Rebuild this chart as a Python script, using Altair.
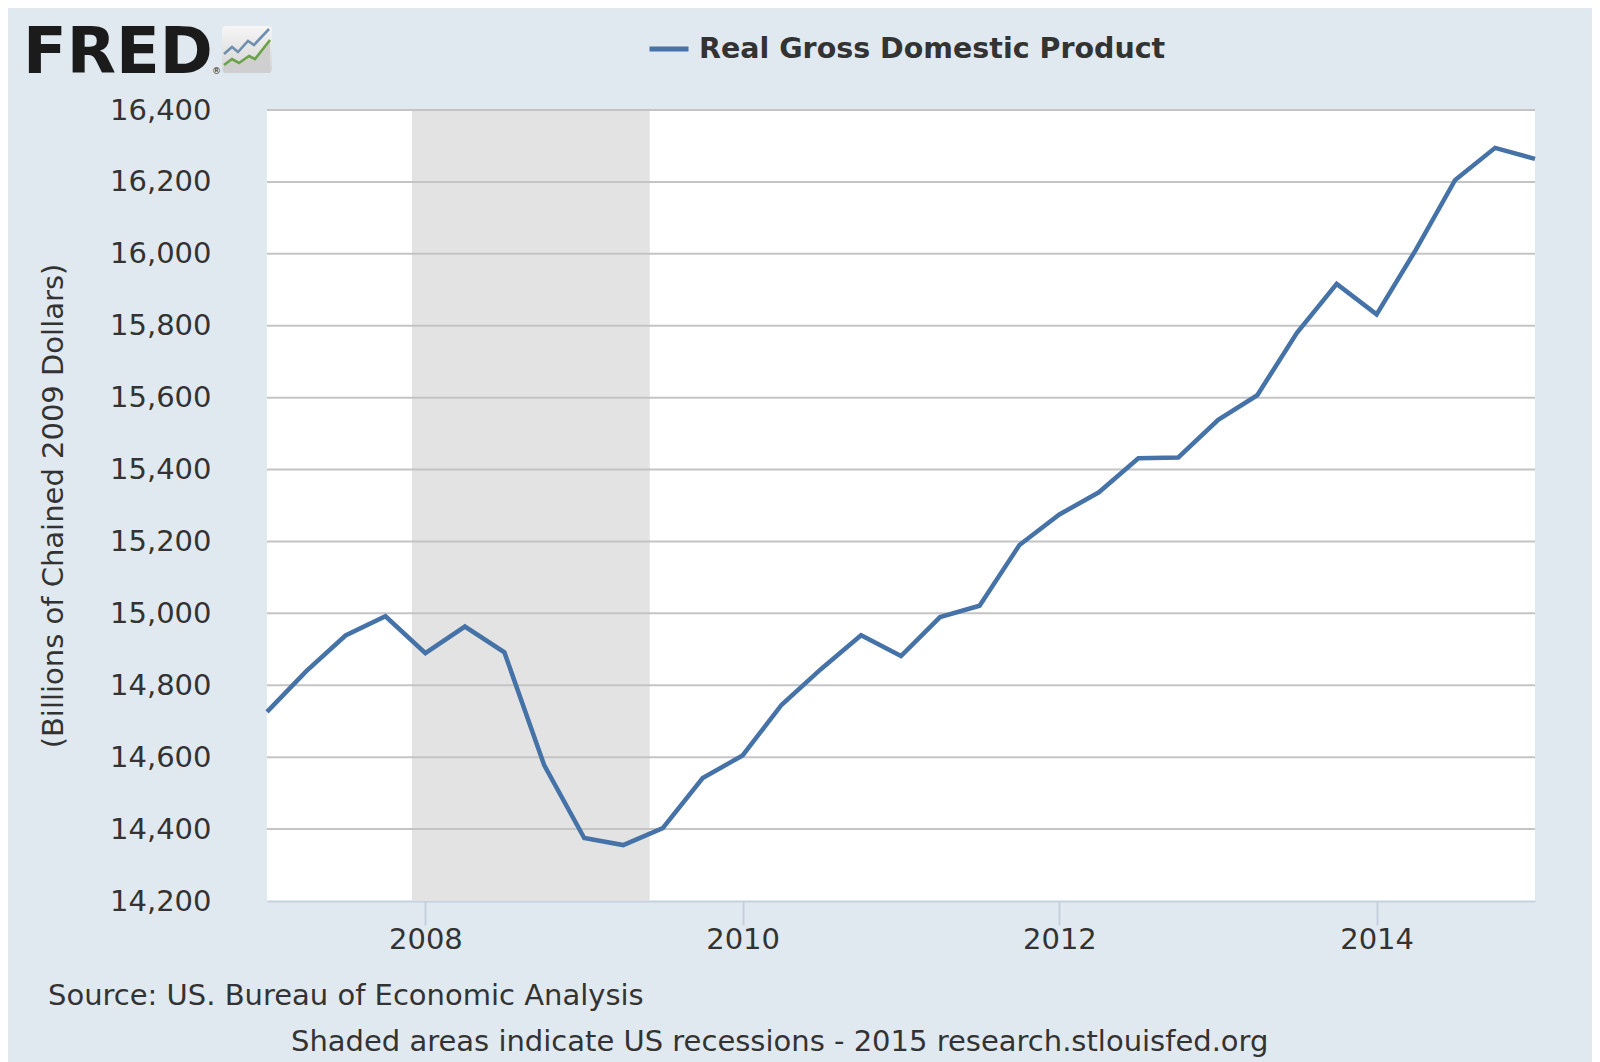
import urllib.parse
import altair as alt
import pandas as pd

# ---------------- data ----------------
quarters = [
    "2007-01-01", "2007-04-01", "2007-07-01", "2007-10-01",
    "2008-01-01", "2008-04-01", "2008-07-01", "2008-10-01",
    "2009-01-01", "2009-04-01", "2009-07-01", "2009-10-01",
    "2010-01-01", "2010-04-01", "2010-07-01", "2010-10-01",
    "2011-01-01", "2011-04-01", "2011-07-01", "2011-10-01",
    "2012-01-01", "2012-04-01", "2012-07-01", "2012-10-01",
    "2013-01-01", "2013-04-01", "2013-07-01", "2013-10-01",
    "2014-01-01", "2014-04-01", "2014-07-01", "2014-10-01",
    "2015-01-01",
]
gdp = [
    14726.0, 14838.7, 14938.5, 14991.8,
    14889.5, 14963.4, 14891.6, 14577.0,
    14375.0, 14355.6, 14402.5, 14541.9,
    14604.8, 14745.9, 14845.5, 14939.0,
    14881.3, 14989.6, 15021.1, 15190.3,
    15275.0, 15336.7, 15431.3, 15433.7,
    15538.4, 15606.6, 15779.9, 15916.2,
    15831.7, 16010.4, 16205.6, 16294.7,
    16264.1,
]
series_name = "Real Gross Domestic Product"
recession_start = ["2007-12-01"]
recession_end = ["2009-06-01"]
y_ticks = [14200, 14400, 14600, 14800, 15000, 15200, 15400, 15600, 15800, 16000, 16200, 16400]
x_tick_years = [2008, 2010, 2012, 2014]
x_domain = ["2007-01-01", "2015-01-01"]
y_title = "(Billions of Chained 2009 Dollars)"
source_text = "Source: US. Bureau of Economic Analysis"
note_text = "Shaded areas indicate US recessions - 2015 research.stlouisfed.org"
logo_text = "FRED"

# ---------------- styling ----------------
BG = "#e1e9f0"
LINE = "#4572a7"
TEXT = "#333333"
FONT = "DejaVu Sans"
FS = 29
W, H = 1268, 791

df = pd.DataFrame({"date": quarters, "gdp": gdp, "series": [series_name] * len(gdp)})
rec = pd.DataFrame({"start": recession_start, "end": recession_end})
grid = pd.DataFrame({"tick": [t for t in y_ticks if t != y_ticks[0]]})

x_scale = alt.Scale(type="utc", domain=x_domain, nice=False)
x_axis = alt.Axis(
    values=[alt.DateTime(year=y, month=1, date=1, utc=True) for y in x_tick_years],
    format="%Y", title=None, grid=False,
    labelFontSize=FS, labelFont=FONT, labelColor=TEXT, labelPadding=0,
    tickSize=24, tickColor="#c3d1df", tickWidth=2,
    domainColor="#c3d1df", domainWidth=2, labelFlush=False,
)
y_scale = alt.Scale(domain=[y_ticks[0], y_ticks[-1]], nice=False, zero=False)
y_axis = alt.Axis(
    values=y_ticks, format=",.0f", grid=False, domain=False, ticks=False, tickSize=0,
    labelFontSize=FS, labelFont=FONT, labelColor=TEXT, labelPadding=56,
    title=y_title, titleFont=FONT, titleFontSize=FS, titleFontWeight="normal",
    titleColor=TEXT, titleAngle=270, titleX=-214, titleY=H / 2,
    titleAlign="center", titleBaseline="middle",
)

recession = alt.Chart(rec).mark_rect(color="#e3e3e3").encode(
    x=alt.X("start:T", scale=x_scale, axis=x_axis),
    x2="end:T",
)

gridlines = alt.Chart(grid).mark_rule(color="#c4c4c4", strokeWidth=2).encode(
    y=alt.Y("tick:Q", scale=y_scale, axis=y_axis),
)

line = alt.Chart(df).mark_line(strokeWidth=4.5, strokeJoin="miter").encode(
    x=alt.X("date:T", scale=x_scale, axis=x_axis),
    y=alt.Y("gdp:Q", scale=y_scale, axis=y_axis),
    color=alt.Color(
        "series:N",
        scale=alt.Scale(range=[LINE]),
        legend=alt.Legend(
            orient="none", legendX=380, legendY=-83, title=None,
            symbolType="stroke", symbolSize=1521, symbolStrokeWidth=5,
            labelFont=FONT, labelFontSize=28.5, labelFontWeight="bold",
            labelColor=TEXT, labelOffset=8, labelLimit=1000, padding=0,
        ),
    ),
)

# ---------------- logo & captions ----------------
icon_svg = (
    "<svg xmlns='http://www.w3.org/2000/svg' width='50' height='47' viewBox='0 0 50 47'>"
    "<defs><linearGradient id='g' x1='0' y1='0' x2='0' y2='1'>"
    "<stop offset='0' stop-color='#f6f6f6'/><stop offset='1' stop-color='#d3d3d3'/>"
    "</linearGradient></defs>"
    "<rect width='50' height='47' rx='4' fill='url(#g)'/>"
    "<polygon points='2,40 10,34 17,38 27,31 33,34 48,15 48,47 2,47' fill='#cfcfcf'/>"
    "<polyline points='2,28 10,21 16,26 26,15 32,19 47,3' fill='none' stroke='#6f8fae' stroke-width='2.6'/>"
    "<polyline points='2,39 10,33 17,37 27,30 33,33 48,14' fill='none' stroke='#6aa34a' stroke-width='2.6'/>"
    "</svg>"
)
icon_url = "data:image/svg+xml;charset=utf-8," + urllib.parse.quote(icon_svg)

logo = alt.Chart(pd.DataFrame({"t": [logo_text]})).mark_text(
    font=FONT, fontSize=64, fontWeight="bold", color="#1b1b1b",
    align="left", baseline="alphabetic",
).encode(text="t:N", x=alt.value(-244), y=alt.value(-37))

reg = alt.Chart(pd.DataFrame({"t": ["®"]})).mark_text(
    font=FONT, fontSize=9, color="#1b1b1b", align="left", baseline="alphabetic",
).encode(text="t:N", x=alt.value(-55), y=alt.value(-36))

icon = alt.Chart(pd.DataFrame({"u": [icon_url]})).mark_image(
    width=50, height=47, align="left", baseline="top",
).encode(url="u:N", x=alt.value(-45), y=alt.value(-84))

source = alt.Chart(pd.DataFrame({"t": [source_text]})).mark_text(
    font=FONT, fontSize=FS, color=TEXT, align="left", baseline="middle",
).encode(text="t:N", x=alt.value(-219), y=alt.value(886))

note = alt.Chart(pd.DataFrame({"t": [note_text]})).mark_text(
    font=FONT, fontSize=FS, color=TEXT, align="left", baseline="middle",
).encode(text="t:N", x=alt.value(24), y=alt.value(932))

chart = alt.layer(
    recession, gridlines, line, logo, reg, icon, source, note
).properties(
    width=W, height=H,
    autosize=alt.AutoSizeParams(type="none"),
    padding={"left": 259, "top": 102, "right": 57, "bottom": 175},
    background=BG,
).configure_view(
    fill="white", strokeWidth=0,
)

chart.save("out.html", embed_options={"renderer": "svg", "actions": False})
